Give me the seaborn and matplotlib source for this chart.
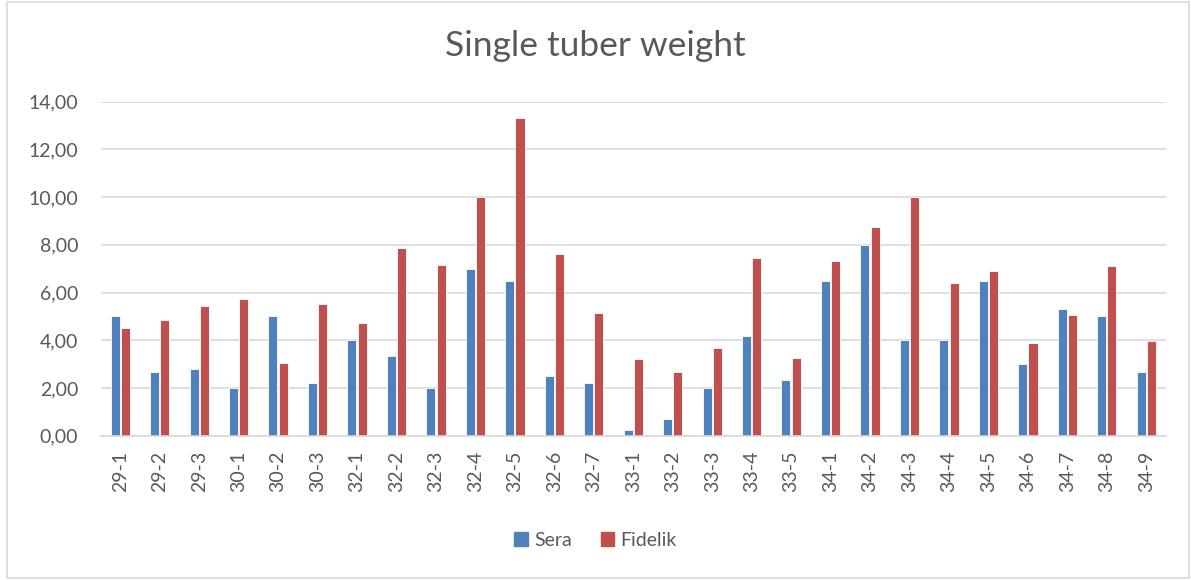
import matplotlib
matplotlib.use("Agg")
import matplotlib.pyplot as plt
from matplotlib.patches import Rectangle
import pandas as pd
import seaborn as sns

# Clone labels along the x axis
clones = ["29-1", "29-2", "29-3", "30-1", "30-2", "30-3", "32-1", "32-2", "32-3",
          "32-4", "32-5", "32-6", "32-7", "33-1", "33-2", "33-3", "33-4", "33-5",
          "34-1", "34-2", "34-3", "34-4", "34-5", "34-6", "34-7", "34-8", "34-9"]

# Single tuber weight per clone for each variety
sera = [5.00, 2.67, 2.79, 2.00, 5.00, 2.19, 4.00, 3.33, 2.00,
        7.00, 6.50, 2.50, 2.19, 0.24, 0.70, 2.00, 4.16, 2.32,
        6.50, 8.00, 4.00, 4.00, 6.50, 3.00, 5.32, 5.00, 2.67]
fidelik = [4.50, 4.87, 5.45, 5.71, 3.06, 5.50, 4.71, 7.86, 7.15,
           10.00, 13.33, 7.60, 5.13, 3.20, 2.65, 3.66, 7.43, 3.25,
           7.32, 8.74, 10.00, 6.38, 6.89, 3.87, 5.08, 7.11, 3.97]

series_names = ["Sera", "Fidelik"]
y_ticks = [0, 2, 4, 6, 8, 10, 12, 14]
y_tick_labels = ["0,00", "2,00", "4,00", "6,00", "8,00", "10,00", "12,00", "14,00"]

df = pd.DataFrame({
    "clone": clones * 2,
    "weight": sera + fidelik,
    "variety": [series_names[0]] * len(clones) + [series_names[1]] * len(clones),
})

sns.set_theme(style="white")
plt.rcParams["font.family"] = ["Lato", "DejaVu Sans"]

text_color = "#595959"
grid_color = "#D9D9D9"
palette = {"Sera": "#4F81BD", "Fidelik": "#C0504D"}

fig = plt.figure(figsize=(11.91, 5.80), dpi=100)
ax = fig.add_axes([100.5 / 1191, 1 - 435.7 / 580, (1166 - 100.5) / 1191, (435.7 - 101.7) / 580])

sns.barplot(data=df, x="clone", y="weight", hue="variety", palette=palette,
            order=clones, hue_order=series_names, width=0.52, gap=0.12,
            edgecolor="white", linewidth=0.6, saturation=1, legend=False, ax=ax)

ax.set_xlim(-0.5, len(clones) - 0.5)
ax.set_ylim(0, 14)
ax.set_yticks(y_ticks)
ax.set_yticklabels(y_tick_labels)
ax.yaxis.grid(True, color=grid_color, linewidth=1.2)
ax.set_axisbelow(True)
for side in ["left", "right", "top"]:
    ax.spines[side].set_visible(False)
ax.spines["bottom"].set_color(grid_color)
ax.spines["bottom"].set_linewidth(1.2)
ax.tick_params(axis="y", length=0, pad=16, labelsize=14, labelcolor=text_color)
ax.tick_params(axis="x", length=0, pad=11, labelsize=14, labelcolor=text_color, rotation=90)
ax.set_xlabel("")
ax.set_ylabel("")

fig.suptitle("Single tuber weight", x=0.5, y=1 - 46 / 580, va="center",
             fontsize=25.5, color=text_color)

handles = [Rectangle((0, 0), 1, 1, color=palette[n]) for n in series_names]
fig.legend(handles, series_names, loc="center", bbox_to_anchor=(0.5, 1 - 540 / 580),
           ncol=2, frameon=False, fontsize=14, labelcolor=text_color,
           handlelength=0.7, handleheight=0.7, handletextpad=0.3, columnspacing=1.5)

fig.patches.append(Rectangle((7 / 1191, 2 / 580), 1182 / 1191, 576 / 580,
                             transform=fig.transFigure, fill=False,
                             edgecolor=grid_color, linewidth=1.2))

fig.savefig("out.png", dpi=100, facecolor="white")
